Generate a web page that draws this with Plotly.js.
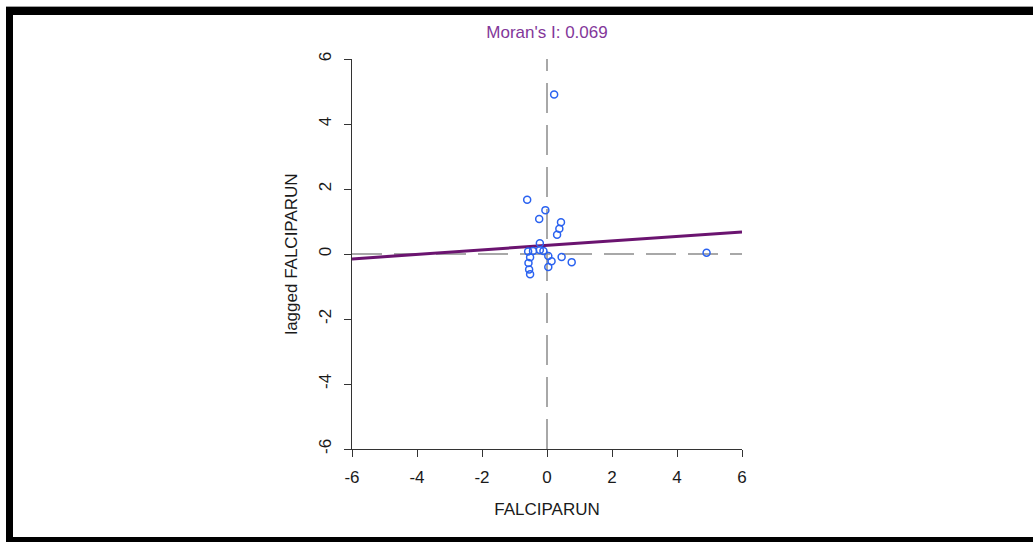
<!DOCTYPE html>
<html>
<head>
<meta charset="utf-8">
<script src="https://cdn.plot.ly/plotly-3.0.1.min.js"></script>
<style>
  html, body { margin: 0; padding: 0; background: #fff; }
  #chart { width: 1033px; height: 542px; }
  .bd { position: absolute; background: #000; }
</style>
</head>
<body>
<div id="chart"></div>
<div class="bd" style="left:6px; top:6px; width:1027px; height:1px; background:#a0a0a0;"></div>
<div class="bd" style="left:6px; top:7px; width:1027px; height:8px;"></div>
<div class="bd" style="left:6px; top:7px; width:7px; height:535px;"></div>
<div class="bd" style="left:6px; top:537px; width:1027px; height:5px;"></div>
<script>
const falciparun = [0.22, 4.91, -0.61, -0.05, -0.24, 0.43, 0.38, 0.31, -0.22, -0.58, -0.43,
                    -0.52, -0.57, -0.55, -0.52, -0.22, -0.11, 0.04, 0.14, 0.04, 0.45, 0.76];
const laggedFalciparun = [4.91, 0.04, 1.67, 1.35, 1.08, 0.98, 0.78, 0.59, 0.33, 0.08, 0.09,
                          -0.10, -0.28, -0.48, -0.62, 0.12, 0.09, -0.06, -0.22, -0.40, -0.09, -0.25];
// Regression line end points (slope = Moran's I)
const fitX = [-6, 6];
const fitY = [-0.15, 0.68];
const tickVals = [-6, -4, -2, 0, 2, 4, 6];
const tickText = ["-6", "-4", "-2", "0", "2", "4", "6"];
const titleText = "Moran's I: 0.069";

const font = "Liberation Sans, Arial, sans-serif";

const traces = [
  {
    x: fitX, y: fitY, type: 'scatter', mode: 'lines',
    line: { color: '#6B1470', width: 3 }, cliponaxis: true
  },
  {
    x: falciparun, y: laggedFalciparun, type: 'scatter', mode: 'markers',
    marker: { symbol: 'circle-open', size: 7, color: '#2a62f0', line: { width: 1.5, color: '#2a62f0' } }
  }
];

const axisCommon = {
  range: [-6, 6], showgrid: false, zeroline: false,
  showline: true, linecolor: '#333', linewidth: 1,
  ticks: 'outside', ticklen: 7, tickcolor: '#333', tickwidth: 1,
  tickvals: tickVals, ticktext: tickText,
  tickfont: { family: font, size: 17, color: '#1a1a1a' }
};

const layout = {
  width: 1033, height: 542,
  margin: { l: 352, r: 291, t: 59, b: 93 },
  paper_bgcolor: '#fff', plot_bgcolor: '#fff',
  showlegend: false, hovermode: false,
  title: {
    text: titleText, font: { family: font, size: 17, color: '#83379a' },
    xref: 'container', yref: 'container', x: 547 / 1033, xanchor: 'center',
    y: 1 - 32 / 542, yanchor: 'middle'
  },
  xaxis: Object.assign({}, axisCommon, {
    ticklabelstandoff: 6,
    title: { text: 'FALCIPARUN', font: { family: font, size: 17, color: '#1a1a1a' }, standoff: 16 }
  }),
  yaxis: Object.assign({}, axisCommon, {
    tickangle: -90,
    ticklabelstandoff: 6,
    title: { text: 'lagged FALCIPARUN', font: { family: font, size: 17, color: '#1a1a1a' }, standoff: 14 }
  }),
  shapes: [
    { type: 'line', xref: 'x', yref: 'y', x0: 0, x1: 0, y0: -6, y1: 6,
      line: { color: '#8c8c8c', width: 1.5, dash: '30px,12px' }, layer: 'below' },
    { type: 'line', xref: 'x', yref: 'y', x0: -6, x1: 6, y0: 0, y1: 0,
      line: { color: '#8c8c8c', width: 1.5, dash: '30px,12px' }, layer: 'below' }
  ]
};

Plotly.newPlot('chart', traces, layout, { staticPlot: true, displayModeBar: false });
</script>
</body>
</html>
